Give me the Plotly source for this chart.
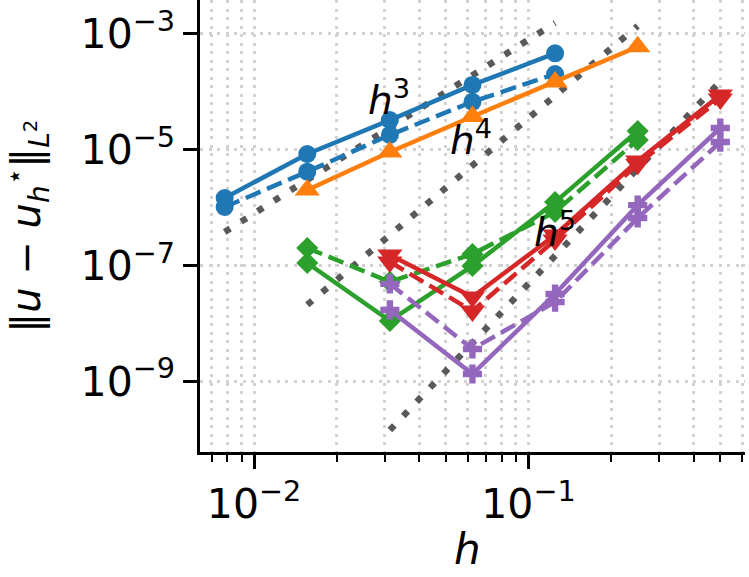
import numpy as np
import plotly.graph_objects as go

# ---------------- data ----------------
h_fine = [1/128, 1/64, 1/32, 1/16, 1/8]
h_mid = [1/64, 1/32, 1/16, 1/8, 1/4]
h_coarse = [1/32, 1/16, 1/8, 1/4, 1/2]

blue_solid = [1.46e-6, 8.4e-6, 3.24e-5, 1.31e-4, 4.6e-4]
blue_dashed = [1.02e-6, 4.15e-6, 1.79e-5, 6.7e-5, 2.02e-4]
orange_solid = [2.0e-6, 9.1e-6, 3.73e-5, 1.47e-4, 5.98e-4]
green_solid = [1.10e-7, 1.10e-8, 9.8e-8, 1.24e-6, 2.1e-5]
green_dashed = [2.0e-7, 5.2e-8, 1.57e-7, 8.4e-7, 1.47e-5]
red_solid = [1.51e-7, 2.85e-8, 3.35e-7, 6.35e-6, 8.8e-5]
red_dashed = [1.15e-7, 1.63e-8, 2.75e-7, 5.6e-6, 7.5e-5]
purple_solid = [1.70e-8, 1.33e-9, 3.2e-8, 1.10e-6, 2.36e-5]
purple_dashed = [4.8e-8, 3.6e-9, 2.33e-8, 6.6e-7, 1.35e-5]

# reference slopes  C * h^p
ref_order = [3, 4, 5]
ref_coef = [0.79, 0.35, 4.8e-3]
ref_h_start = [1/128, 1/64, 1/32]
ref_h_end = [1/8, 1/4, 1/2]

label_text = ["<i>h</i><sup>3</sup>", "<i>h</i><sup>4</sup>", "<i>h</i><sup>5</sup>"]
label_x = [0.031, 0.0615, 0.1245]
label_y = [7.78e-5, 1.58e-5, 4.08e-7]

xtick_vals = [1e-2, 1e-1]
xtick_text = ["10<sup>−2</sup>", "10<sup>−1</sup>"]
ytick_vals = [1e-3, 1e-5, 1e-7, 1e-9]
ytick_text = ["10<sup>−3</sup>", "10<sup>−5</sup>", "10<sup>−7</sup>", "10<sup>−9</sup>"]
xminor_vals = [m * 10.0 ** k for k in (-3, -2, -1) for m in range(2, 10)]

# ---------------- styles ----------------
FONT = "DejaVu Sans"
C_BLUE, C_ORANGE, C_GREEN, C_RED, C_PURPLE = "#1f77b4", "#ff7f0e", "#2ca02c", "#d62728", "#9467bd"
DASH = "16px,7px"
LW = 4.5
GRID = dict(showgrid=True, gridcolor="#d2d2d2", gridwidth=2.5, griddash="3px,5.5px")

fig = go.Figure()

# reference dotted lines
for p, c, h0, h1 in zip(ref_order, ref_coef, ref_h_start, ref_h_end):
    hs = [h0, h1]
    fig.add_trace(go.Scatter(
        x=hs, y=[c * h ** p for h in hs], mode="lines",
        line=dict(color="#595959", width=6.5, dash="6.5px,13px"),
        hoverinfo="skip", showlegend=False))

series = [
    (h_fine, blue_solid, C_BLUE, "solid", "circle", 18),
    (h_fine, blue_dashed, C_BLUE, DASH, "circle", 18),
    (h_mid, orange_solid, C_ORANGE, "solid", "triangle-up", 22),
    (h_mid, green_solid, C_GREEN, "solid", "diamond", 17),
    (h_mid, green_dashed, C_GREEN, DASH, "diamond", 17),
    (h_coarse, red_solid, C_RED, "solid", "triangle-down", 22),
    (h_coarse, red_dashed, C_RED, DASH, "triangle-down", 22),
    (h_coarse, purple_solid, C_PURPLE, "solid", "cross", 16),
    (h_coarse, purple_dashed, C_PURPLE, DASH, "cross", 16),
]
for xs, ys, col, dash, sym, size in series:
    fig.add_trace(go.Scatter(
        x=xs, y=ys, mode="lines+markers",
        line=dict(color=col, width=LW, dash=dash),
        marker=dict(symbol=sym, size=size, color=col, line=dict(width=0)),
        showlegend=False))

for t, lx, ly in zip(label_text, label_x, label_y):
    fig.add_annotation(x=np.log10(lx), y=np.log10(ly), xref="x", yref="y",
                       text=t, showarrow=False, xanchor="center", yanchor="middle",
                       font=dict(family=FONT, size=39, color="black"))

# axis titles
fig.add_annotation(x=0.49, y=-0.215, xref="paper", yref="paper", text="<i>h</i>",
                   showarrow=False, xanchor="center", yanchor="middle",
                   font=dict(family=FONT, size=42, color="black"))
fig.add_annotation(x=-0.318, y=0.5, xref="paper", yref="paper",
                   text="‖<i>u</i> − <i>u</i><sub><i>h</i></sub><sup>⋆</sup>‖<sub><i>L</i><sup>2</sup></sub>",
                   textangle=-90, showarrow=False, xanchor="center", yanchor="middle",
                   font=dict(family=FONT, size=40, color="black"))

axis_common = dict(
    type="log", showline=True, linecolor="black", linewidth=2.5, mirror=False,
    ticks="outside", ticklen=14, tickwidth=2.5, tickcolor="black",
    zeroline=False, tickfont=dict(family=FONT, size=41, color="black"),
    tickmode="array", **GRID)

fig.update_xaxes(range=[-2.197, -0.211], tickvals=xtick_vals, ticktext=xtick_text,
                 minor=dict(tickmode="array", tickvals=xminor_vals, ticks="outside",
                            ticklen=7, tickwidth=2, tickcolor="black", **GRID),
                 **axis_common)
fig.update_yaxes(range=[-10.223, -2.416], tickvals=ytick_vals, ticktext=ytick_text,
                 **axis_common)

fig.update_layout(width=749, height=577, margin=dict(l=200, r=4, t=0, b=125),
                  plot_bgcolor="white", paper_bgcolor="white",
                  font=dict(family=FONT, color="black"))

fig.write_html("out.html")
